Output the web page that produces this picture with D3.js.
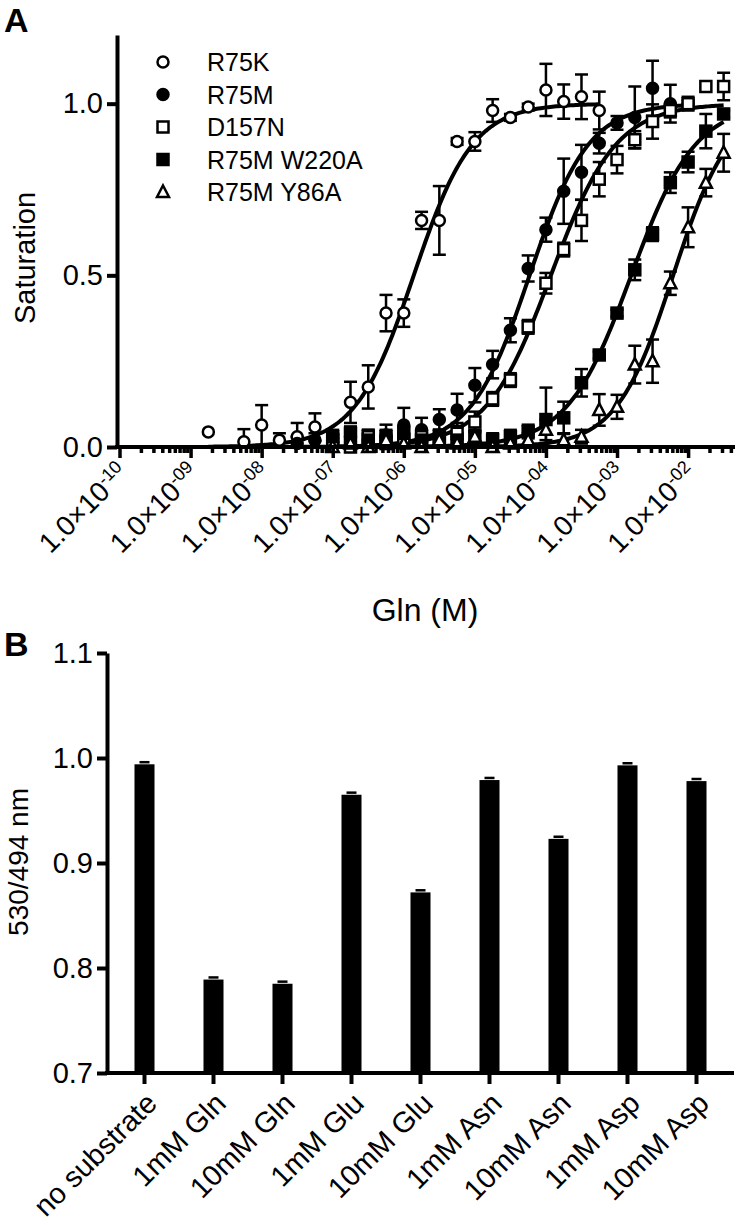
<!DOCTYPE html>
<html>
<head>
<meta charset="utf-8">
<script src="https://cdn.jsdelivr.net/npm/d3@7"></script>
<style>
  body { margin: 0; background: #fff; }
  text { font-family: "Liberation Sans", Arial, sans-serif; fill: #000; }
</style>
</head>
<body>
<svg id="chart" width="740" height="1225"></svg>
<script>
(function () {

    // ---- Panel A data (log10 of Gln concentration, saturation, SEM) ----
    const seriesNames = ["R75K", "R75M", "D157N", "R75M W220A", "R75M Y86A"];
    const seriesSymbols = ["openCircle", "filledCircle", "openSquare", "filledSquare", "openTriangle"];

    const logConcR75K = [-8.75, -8.25, -8.0, -7.75, -7.5, -7.25, -7.0, -6.75, -6.5, -6.25, -6.0, -5.75, -5.5, -5.25, -5.0, -4.75, -4.5, -4.25, -4.0, -3.75, -3.5, -3.25];
    const satR75K = [0.044, 0.015, 0.064, 0.02, 0.03, 0.058, 0.026, 0.13, 0.175, 0.39, 0.39, 0.66, 0.66, 0.89, 0.89, 0.98, 0.96, 0.99, 1.04, 1.006, 1.02, 0.98];
    const semR75K = [0, 0.037, 0.058, 0.02, 0.04, 0.04, 0, 0.06, 0.063, 0.053, 0.04, 0.025, 0.1, 0.01, 0.027, 0.033, 0.01, 0.01, 0.076, 0.05, 0.065, 0.055];

    const logConcR75M = [-7.5, -7.25, -7.0, -6.75, -6.5, -6.25, -6.0, -5.75, -5.5, -5.25, -5.0, -4.75, -4.5, -4.25, -4.0, -3.75, -3.5, -3.25, -3.0, -2.75, -2.5, -2.25, -2.0];
    const satR75M = [0.01, 0.02, 0.015, 0.03, 0.02, 0.035, 0.064, 0.05, 0.08, 0.108, 0.18, 0.24, 0.34, 0.52, 0.633, 0.745, 0.80, 0.885, 0.944, 0.96, 1.045, 1.0, 1.0];
    const semR75M = [0.02, 0.02, 0.02, 0.02, 0.03, 0.03, 0.05, 0.035, 0.03, 0.047, 0.05, 0.04, 0.035, 0.038, 0.035, 0.095, 0.08, 0.03, 0.02, 0.09, 0.08, 0.055, 0.01];

    const logConcD157N = [-7.0, -6.75, -6.5, -6.25, -6.0, -5.75, -5.5, -5.25, -5.0, -4.75, -4.5, -4.25, -4.0, -3.75, -3.5, -3.25, -3.0, -2.75, -2.5, -2.25, -2.0, -1.75, -1.5];
    const satD157N = [0.02, 0.0, 0.03, 0.01, 0.02, 0.03, 0.02, 0.04, 0.073, 0.14, 0.195, 0.35, 0.477, 0.575, 0.66, 0.78, 0.837, 0.895, 0.948, 0.98, 1.0, 1.05, 1.05];
    const semD157N = [0.02, 0.02, 0.02, 0.02, 0.02, 0.02, 0.03, 0.03, 0.03, 0.02, 0.02, 0.02, 0.03, 0.02, 0.06, 0.05, 0.04, 0.025, 0.05, 0.02, 0.02, 0, 0.04];

    const logConcW220A = [-7.0, -6.75, -6.5, -6.25, -6.0, -5.75, -5.5, -5.25, -5.0, -4.75, -4.5, -4.25, -4.0, -3.75, -3.5, -3.25, -3.0, -2.75, -2.5, -2.25, -2.0, -1.75, -1.5];
    const satW220A = [0.03, 0.04, 0.02, 0.03, 0.04, 0.02, 0.03, 0.02, 0.03, 0.02, 0.03, 0.045, 0.08, 0.085, 0.187, 0.268, 0.39, 0.516, 0.62, 0.77, 0.83, 0.92, 0.97];
    const semW220A = [0.02, 0.02, 0.02, 0.02, 0.02, 0.02, 0.02, 0.02, 0.02, 0.02, 0.02, 0.02, 0.093, 0.047, 0.04, 0.01, 0.01, 0.03, 0.02, 0.03, 0.03, 0.05, 0.01];

    const logConcY86A = [-7.0, -6.75, -6.5, -6.25, -6.0, -5.75, -5.5, -5.25, -5.0, -4.75, -4.5, -4.25, -4.0, -3.75, -3.5, -3.25, -3.0, -2.75, -2.5, -2.25, -2.0, -1.75, -1.5];
    const satY86A = [0.0, 0.01, 0.0, 0.02, 0.01, 0.0, 0.02, 0.01, 0.03, 0.0, 0.01, 0.02, 0.05, 0.02, 0.03, 0.108, 0.117, 0.24, 0.25, 0.477, 0.64, 0.77, 0.857];
    const semY86A = [0.01, 0.01, 0.01, 0.01, 0.01, 0.01, 0.01, 0.01, 0.02, 0.01, 0.01, 0.02, 0.03, 0.02, 0.02, 0.046, 0.035, 0.055, 0.063, 0.034, 0.058, 0.04, 0.055];

    // Hill fit parameters per series (log10 EC50, Hill slope)
    const fitLogEC50 = [-5.86, -4.23, -3.93, -2.80, -2.21];
    const fitHill = [1.05, 1.05, 0.95, 0.96, 1.09];

    const xTickExponents = ["-10", "-09", "-08", "-07", "-06", "-05", "-04", "-03", "-02"];

    // ---- Panel B data ----
    const substrates = ["no substrate", "1mM Gln", "10mM Gln", "1mM Glu", "10mM Glu", "1mM Asn", "10mM Asn", "1mM Asp", "10mM Asp"];
    const ratios = [0.994, 0.789, 0.785, 0.965, 0.872, 0.979, 0.923, 0.993, 0.978];
    const ratioSem = [0.002, 0.002, 0.002, 0.002, 0.002, 0.002, 0.002, 0.002, 0.002];
    const ratioTicks = [0.7, 0.8, 0.9, 1.0, 1.1];

    const series = seriesNames.map((name, i) => {
        const lc = [logConcR75K, logConcR75M, logConcD157N, logConcW220A, logConcY86A][i];
        const sat = [satR75K, satR75M, satD157N, satW220A, satY86A][i];
        const sem = [semR75K, semR75M, semD157N, semW220A, semY86A][i];
        return {
            name: name,
            symbol: seriesSymbols[i],
            ec50: fitLogEC50[i],
            hill: fitHill[i],
            points: lc.map((l, j) => ({ conc: Math.pow(10, l), sat: sat[j], sem: sem[j] }))
        };
    });

    const svg = d3.select("#chart");

    // ================= PANEL A =================
    const xA = d3.scaleLog()
        .domain([1e-10, Math.pow(10, -1.34)])
        .range([119.5, 735]);
    const yA = d3.scaleLinear()
        .domain([0, 1.2])
        .range([447, 35]);

    const gA = svg.append("g");

    // Fitted curves
    const line = d3.line()
        .x((d) => xA(d[0]))
        .y((d) => yA(d[1]));

    series.forEach((s) => {
        const lo = Math.log10(s.points[0].conc);
        const hi = Math.log10(s.points[s.points.length - 1].conc);
        const pts = d3.range(0, 201).map((k) => {
            const l = lo + (hi - lo) * k / 200;
            return [Math.pow(10, l), 1 / (1 + Math.pow(10, s.hill * (s.ec50 - l)))];
        });
        gA.append("path")
            .attr("d", line(pts))
            .attr("fill", "none")
            .attr("stroke", "#000")
            .attr("stroke-width", 4);
    });

    // Error bars
    series.forEach((s) => {
        const eg = gA.append("g");
        s.points.filter((p) => p.sem > 0).forEach((p) => {
            const cx = xA(p.conc);
            const y1 = yA(p.sat + p.sem), y0 = yA(Math.max(0, p.sat - p.sem));
            eg.append("line").attr("x1", cx).attr("x2", cx).attr("y1", y1).attr("y2", y0)
                .attr("stroke", "#000").attr("stroke-width", 2.5);
            [y1, y0].forEach((yy) => {
                eg.append("line").attr("x1", cx - 6.5).attr("x2", cx + 6.5).attr("y1", yy).attr("y2", yy)
                    .attr("stroke", "#000").attr("stroke-width", 2.5);
            });
        });
    });

    // Symbol drawing helper
    const drawSymbol = (g, type, cx, cy) => {
        if (type === "openCircle" || type === "filledCircle") {
            g.append("circle").attr("cx", cx).attr("cy", cy).attr("r", 5.5)
                .attr("fill", type === "filledCircle" ? "#000" : "#fff")
                .attr("stroke", "#000").attr("stroke-width", 2.5);
        } else if (type === "openSquare" || type === "filledSquare") {
            g.append("rect").attr("x", cx - 5.5).attr("y", cy - 5.5).attr("width", 11).attr("height", 11)
                .attr("fill", type === "filledSquare" ? "#000" : "#fff")
                .attr("stroke", "#000").attr("stroke-width", 2.5);
        } else {
            g.append("path")
                .attr("d", `M${cx},${cy - 6.5}L${cx + 6},${cy + 5}L${cx - 6},${cy + 5}Z`)
                .attr("fill", "#fff").attr("stroke", "#000").attr("stroke-width", 2.5)
                .attr("stroke-linejoin", "miter");
        }
    };

    series.forEach((s) => {
        const sg = gA.append("g");
        s.points.forEach((p) => drawSymbol(sg, s.symbol, xA(p.conc), yA(p.sat)));
    });

    // Axes A
    const yAxisA = d3.axisLeft(yA).tickValues([0, 0.5, 1.0]).tickFormat(d3.format(".1f"))
        .tickSize(10).tickSizeOuter(0).tickPadding(4);
    const gyA = gA.append("g").attr("transform", "translate(117,0)").call(yAxisA);
    gyA.select(".domain").attr("stroke-width", 4);
    gyA.selectAll(".tick line").attr("stroke-width", 4);
    gyA.selectAll(".tick text").attr("font-size", 29);

    const decades = d3.range(-10, -1).map((e) => Math.pow(10, e));
    const minors = [];
    decades.forEach((d) => { for (let m = 2; m <= 9; m++) { if (d * m <= xA.domain()[1]) minors.push(d * m); } });

    const gxMinor = gA.append("g").attr("transform", "translate(0,447)")
        .call(d3.axisBottom(xA).tickValues(minors).tickFormat("").tickSize(6).tickSizeOuter(0));
    gxMinor.select(".domain").remove();
    gxMinor.selectAll(".tick line").attr("stroke-width", 3.5);

    const gxA = gA.append("g").attr("transform", "translate(0,447)")
        .call(d3.axisBottom(xA).tickValues(decades).tickSize(11).tickSizeOuter(0));
    gxA.select(".domain").remove();
    gxA.selectAll(".tick line").attr("stroke-width", 3.5);
    gxA.selectAll(".tick text")
        .attr("font-size", 28)
        .attr("x", 0).attr("y", 0).attr("dy", "0.35em")
        .attr("transform", "translate(3,21) rotate(-45)")
        .style("text-anchor", "end")
        .each(function (d, i) {
            const t = d3.select(this).text(null);
            t.append("tspan").text("1.0\u00d710");
            t.append("tspan").attr("baseline-shift", "super").attr("font-size", 18).text(xTickExponents[i]);
        });
    gA.append("line").attr("x1", 115).attr("x2", 735).attr("y1", 447).attr("y2", 447)
        .attr("stroke", "#000").attr("stroke-width", 4);

    gA.append("text").attr("x", 425).attr("y", 621).attr("text-anchor", "middle")
        .attr("font-size", 32).text("Gln (M)");
    gA.append("text").attr("transform", "translate(35,258) rotate(-90)").attr("text-anchor", "middle")
        .attr("font-size", 29).text("Saturation");
    gA.append("text").attr("x", 4).attr("y", 32).attr("font-size", 34).attr("font-weight", "bold").text("A");

    // Legend
    const legend = gA.append("g");
    series.forEach((s, i) => {
        const ly = 62 + i * 32.5;
        drawSymbol(legend, s.symbol, 163, ly);
        legend.append("text").attr("x", 207).attr("y", ly).attr("dy", "0.36em")
            .attr("font-size", 25).text(s.name);
    });

    // ================= PANEL B =================
    const xB = d3.scaleBand().domain(substrates).range([110, 731]).paddingInner(0.71).paddingOuter(0.355);
    const yB = d3.scaleLinear().domain([0.7, 1.1]).range([1073, 653]);

    const gB = svg.append("g");

    gB.selectAll(".bar").data(substrates).enter().append("rect")
        .attr("class", "bar")
        .attr("x", (d) => xB(d))
        .attr("width", xB.bandwidth())
        .attr("y", (d, i) => yB(ratios[i]))
        .attr("height", (d, i) => yB(0.7) - yB(ratios[i]))
        .attr("fill", "#000");

    gB.selectAll(".err").data(substrates).enter().append("line")
        .attr("class", "err")
        .attr("x1", (d) => xB(d) + xB.bandwidth() / 2 - 5)
        .attr("x2", (d) => xB(d) + xB.bandwidth() / 2 + 5)
        .attr("y1", (d, i) => yB(ratios[i] + ratioSem[i]))
        .attr("y2", (d, i) => yB(ratios[i] + ratioSem[i]))
        .attr("stroke", "#000").attr("stroke-width", 2.5);

    const gyB = gB.append("g").attr("transform", "translate(107,0)")
        .call(d3.axisLeft(yB).tickValues(ratioTicks).tickFormat(d3.format(".1f")).tickSize(10).tickSizeOuter(0).tickPadding(4));
    gyB.select(".domain").attr("stroke-width", 4);
    gyB.selectAll(".tick line").attr("stroke-width", 4);
    gyB.selectAll(".tick text").attr("font-size", 29);

    const gxB = gB.append("g").attr("transform", "translate(0,1073)")
        .call(d3.axisBottom(xB).tickSize(11).tickSizeOuter(0));
    gxB.select(".domain").remove();
    gxB.selectAll(".tick line").attr("stroke-width", 4);
    gxB.selectAll(".tick text")
        .attr("font-size", 29)
        .attr("x", 0).attr("y", 0).attr("dy", "0.35em")
        .attr("transform", "translate(7,25) rotate(-45)")
        .style("text-anchor", "end");
    gB.append("line").attr("x1", 105).attr("x2", 734).attr("y1", 1073).attr("y2", 1073)
        .attr("stroke", "#000").attr("stroke-width", 4);

    gB.append("text").attr("transform", "translate(28,862) rotate(-90)").attr("text-anchor", "middle")
        .attr("font-size", 28).text("530/494 nm");
    gB.append("text").attr("x", 4).attr("y", 656).attr("font-size", 34).attr("font-weight", "bold").text("B");

})();
</script>
</body>
</html>
